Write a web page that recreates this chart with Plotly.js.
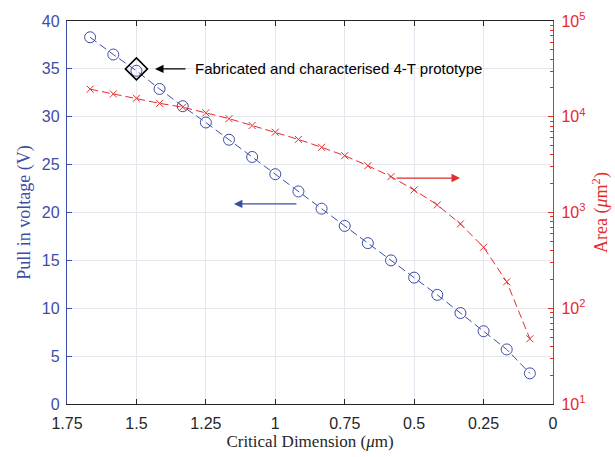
<!DOCTYPE html>
<html>
<head>
<meta charset="utf-8">
<script src="https://cdn.plot.ly/plotly-3.0.1.min.js"></script>
<style>html,body{margin:0;padding:0;background:#fff;}#chart{width:615px;height:457px;}</style>
</head>
<body>
<div id="chart"></div>
<script>
// Critical dimension (um)
var criticalDim = [1.6667, 1.5833, 1.5, 1.4167, 1.3333, 1.25, 1.1667, 1.0833, 1.0, 0.9167,
                   0.8333, 0.75, 0.6667, 0.5833, 0.5, 0.4167, 0.3333, 0.25, 0.1667, 0.0833];
// Pull-in voltage (V)
var pullInVoltage = [38.3, 36.5, 34.8, 32.9, 31.1, 29.4, 27.6, 25.8, 24.0, 22.2,
                     20.4, 18.6, 16.8, 15.0, 13.2, 11.4, 9.5, 7.6, 5.7, 3.2];
// Area (um^2)
var area = [19400, 17300, 15600, 13800, 12600, 11000, 9550, 8100, 6900, 5800,
            4800, 3920, 3080, 2370, 1720, 1200, 760, 434, 189, 48];
// Prototype
var protoX = [1.5];
var protoY = [35];

var xTicks = [1.75, 1.5, 1.25, 1, 0.75, 0.5, 0.25, 0];
var xTickText = ['1.75', '1.5', '1.25', '1', '0.75', '0.5', '0.25', '0'];
var yTicks = [0, 5, 10, 15, 20, 25, 30, 35, 40];
var y2Ticks = [10, 100, 1000, 10000, 100000];
var y2TickText = ['10<sup>1</sup>', '10<sup>2</sup>', '10<sup>3</sup>', '10<sup>4</sup>', '10<sup>5</sup>'];

var BLUE = '#3D4DA6';
var RED = '#E62B2B';

var traces = [
  {
    x: criticalDim, y: pullInVoltage, type: 'scatter', mode: 'lines+markers',
    line: {color: BLUE, width: 1, dash: '8px,4px'},
    marker: {symbol: 'circle-open', size: 11, color: BLUE, line: {width: 1, color: BLUE}},
    xaxis: 'x', yaxis: 'y', hoverinfo: 'skip'
  },
  {
    x: criticalDim, y: area, type: 'scatter', mode: 'lines+markers',
    line: {color: RED, width: 1, dash: '8px,4px'},
    marker: {symbol: 'x-thin-open', size: 7, color: RED, line: {width: 1, color: RED}},
    xaxis: 'x', yaxis: 'y2', hoverinfo: 'skip'
  },
  {
    x: protoX, y: protoY, type: 'scatter', mode: 'markers',
    marker: {symbol: 'diamond-open', size: 17, color: '#000', line: {width: 1.6, color: '#000'}},
    xaxis: 'x', yaxis: 'y', hoverinfo: 'skip'
  }
];

var layout = {
  width: 615, height: 457,
  margin: {l: 67, r: 62, t: 21, b: 53},
  paper_bgcolor: '#fff', plot_bgcolor: '#fff',
  showlegend: false,
  font: {family: 'Liberation Sans, Arial, sans-serif', size: 16, color: '#262626'},
  xaxis: {
    range: [1.75, 0], tickvals: xTicks, ticktext: xTickText,
    showgrid: true, gridcolor: '#e6e6ee', gridwidth: 1,
    showline: true, linecolor: '#262626', linewidth: 1, mirror: 'ticks',
    ticks: 'inside', ticklen: 5, tickcolor: '#262626', zeroline: false,
    ticklabelstandoff: 5,
    tickfont: {size: 16, color: '#262626'},
    title: {text: 'Critical Dimension (<i>μ</i>m)', font: {family: 'Liberation Serif, Times New Roman, serif', size: 17, color: '#262626'}, standoff: 3}
  },
  yaxis: {
    range: [0, 40], tickvals: yTicks,
    showgrid: true, gridcolor: '#e6e6ee', gridwidth: 1,
    showline: true, linecolor: BLUE, linewidth: 1.2,
    ticks: 'inside', ticklen: 5, tickcolor: BLUE, zeroline: false,
    ticklabelstandoff: 3,
    tickfont: {size: 16, color: BLUE},
    title: {text: 'Pull in voltage (V)', font: {family: 'Liberation Serif, Times New Roman, serif', size: 18, color: BLUE}, standoff: 6}
  },
  yaxis2: {
    type: 'log', range: [1, 5], overlaying: 'y', side: 'right',
    tickvals: y2Ticks, ticktext: y2TickText,
    showgrid: false, showline: true, linecolor: RED, linewidth: 1.2,
    ticks: 'inside', ticklen: 5, tickcolor: RED, zeroline: false,
    ticklabelstandoff: 4,
    minor: {ticks: 'inside', ticklen: 3, tickcolor: RED, showgrid: false, dtick: 'D1'},
    tickfont: {size: 16, color: RED},
    title: {text: 'Area (<i>μ</i>m<sup>2</sup>)', font: {family: 'Liberation Serif, Times New Roman, serif', size: 18, color: RED}, standoff: 10}
  },
  annotations: [
    {x: 1.433, y: 35, xref: 'x', yref: 'y', ax: 32, ay: 0, showarrow: true,
     arrowhead: 2, arrowsize: 1.3, arrowwidth: 1.3, arrowcolor: '#000', text: ''},
    {x: 1.296, y: 35, xref: 'x', yref: 'y', xanchor: 'left', yanchor: 'middle', showarrow: false,
     text: 'Fabricated and characterised 4-T prototype',
     font: {family: 'Liberation Sans, Arial, sans-serif', size: 15, color: '#000'}},
    {x: 1.149, y: 20.9, xref: 'x', yref: 'y', ax: 64, ay: 0, showarrow: true,
     arrowhead: 2, arrowsize: 1.3, arrowwidth: 1.3, arrowcolor: BLUE, text: ''},
    {x: 0.335, y: 3.36, xref: 'x', yref: 'y2', ax: -65, ay: 0, showarrow: true,
     arrowhead: 2, arrowsize: 1.3, arrowwidth: 1.3, arrowcolor: RED, text: ''}
  ]
};

Plotly.newPlot('chart', traces, layout, {staticPlot: true, displayModeBar: false});
</script>
</body>
</html>
